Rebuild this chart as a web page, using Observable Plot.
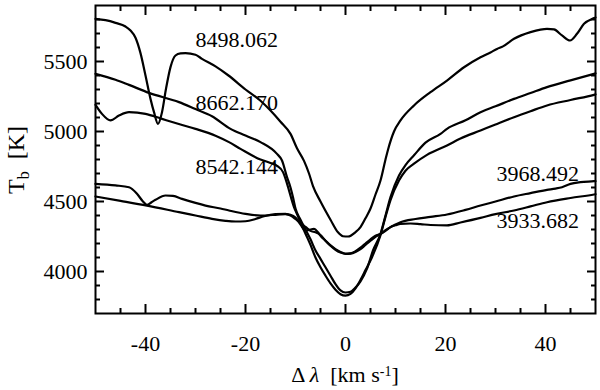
<!DOCTYPE html>
<html><head><meta charset="utf-8">
<script src="https://cdn.jsdelivr.net/npm/d3@7"></script>
<script src="https://cdn.jsdelivr.net/npm/@observablehq/plot@0.6"></script>
<style>
body{margin:0;background:#fff}
svg, svg text { font-family: "Liberation Serif", "DejaVu Serif", serif; }
</style>
</head><body><div id="chart"></div>
<script>
// Δλ [km/s] and brightness temperature T_b [K] for each line
const x8498 = [-50,-48,-46,-44,-43,-42,-41,-40,-39,-38.3,-37.5,-36.7,-35.9,-35,-34,-33,-32,-30,-28.7,-26,-23.4,-20,-17,-15,-13,-11,-9.7,-8.3,-7.3,-6.5,-5,-3,-1.5,-0.5,0.5,2,3,4,5,6,7,8,8.5,9.7,11,13.7,17,20.3,23.7,27,29,30.3,31.5,33.7,37,39,40.3,41.7,43.3,44.9,46.3,47.7,49.7,50];
const t8498 = [5805,5795,5776,5750,5721,5670,5560,5400,5233,5138,5055,5138,5305,5460,5543,5558,5560,5548,5519,5465,5400,5300,5220,5150,5070,4983,4880,4790,4700,4610,4500,4370,4280,4252,4250,4281,4317,4380,4450,4550,4650,4800,4870,5000,5079,5186,5281,5364,5459,5531,5565,5590,5608,5662,5710,5728,5733,5729,5686,5650,5698,5769,5810,5815];

const x8662 = [-50,-46,-43.3,-39.3,-33.3,-30,-26.7,-23,-20,-17,-13.7,-12.7,-11.7,-11,-10.5,-10,-9,-8,-7,-6,-5,-4,-3,-2,-1,0,1,2,3,4.3,5.5,7,8,9,10.7,12,13.7,16,19,20.3,24,27,30,33.7,37,40.3,45,49.7,50];
const t8662 = [5412,5370,5333,5276,5210,5160,5109,5019,4971,4924,4840,4793,4674,4600,4530,4450,4370,4300,4230,4150,4090,4030,3970,3910,3865,3850,3855,3885,3930,4020,4150,4269,4400,4531,4686,4760,4830,4920,4983,5019,5080,5138,5180,5233,5275,5317,5365,5412,5415];

const x8542 = [-50,-48.7,-47,-45.3,-43.3,-40,-36.7,-33,-30,-26,-23.3,-21,-17,-15,-13.7,-12.5,-11.8,-11.3,-10.3,-9.7,-9,-8,-7,-6,-5,-4,-3,-2,-1,0,1,2,3,4,5.3,7,8,9,10.7,12,13.7,16.3,20.3,23,27,30,33.7,37,40.3,45,49.7,50];
const t8542 = [5191,5126,5079,5114,5138,5126,5090,5050,5019,4970,4924,4876,4800,4775,4755,4710,4640,4579,4460,4410,4350,4270,4190,4100,4030,3970,3915,3870,3838,3828,3840,3880,3940,4010,4102,4260,4390,4510,4650,4720,4770,4833,4900,4950,5007,5050,5102,5145,5186,5225,5262,5265];

const x3968 = [-50,-46,-43.3,-41.7,-40.5,-39.7,-38.8,-38,-36,-34.5,-32.7,-30,-28,-25,-23.3,-20,-17,-14,-12,-11,-10,-9,-8,-7,-6.3,-5.5,-5,-4,-3,-2,-1,0,1,2,3,4,5,6,7,8,9,10,11,14,17,20.3,24,27,30,33.7,37,40.3,42,43.3,45,47,49.7,50];
const t3968 = [4626,4615,4602,4555,4500,4476,4495,4512,4543,4540,4519,4490,4471,4450,4436,4412,4400,4405,4410,4405,4385,4335,4292,4300,4305,4280,4255,4220,4186,4160,4140,4128,4130,4145,4170,4200,4230,4255,4268,4290,4317,4335,4352,4375,4390,4407,4440,4471,4500,4536,4560,4583,4592,4602,4626,4638,4645,4646];

const x3933 = [-50,-45,-39.7,-33.3,-30,-26.7,-24,-22,-20,-18,-16.3,-14,-12,-11,-10,-9,-8,-7,-6,-5,-4,-3,-2,-1,0,1,2,3,4,5,6,7,8,9,10,11,13,15,17,20.3,23,27,30,33.7,37,40.3,45,49.7,50];
const t3933 = [4536,4505,4471,4424,4400,4376,4362,4357,4359,4375,4395,4410,4412,4400,4375,4345,4318,4290,4280,4260,4220,4185,4155,4135,4125,4128,4140,4160,4190,4220,4248,4268,4295,4317,4330,4340,4343,4338,4332,4329,4350,4383,4410,4436,4465,4495,4525,4550,4552];

// line labels
const labelText = ["8498.062", "8662.170", "8542.144", "3968.492", "3933.682"];
const labelX = [-30, -30, -30, 30.2, 30.2];
const labelY = [5655, 5205, 4748, 4698, 4364];

// ticks
const xMajor = [-40, -20, 0, 20, 40];
const xMinor = [-45, -35, -30, -25, -15, -10, -5, 5, 10, 15, 25, 30, 35, 45];
const yMajor = [4000, 4500, 5000, 5500];
const yMinor = [3800, 3900, 4100, 4200, 4300, 4400, 4600, 4700, 4800, 4900, 5100, 5200, 5300, 5400, 5600, 5700, 5800];

const series = [
  {name: "8498.062", x: x8498, t: t8498},
  {name: "8662.170", x: x8662, t: t8662},
  {name: "8542.144", x: x8542, t: t8542},
  {name: "3968.492", x: x3968, t: t3968},
  {name: "3933.682", x: x3933, t: t3933}
];
const rows = series.flatMap(s => s.x.map((x, i) => ({series: s.name, x, t: s.t[i]})));
const labels = labelText.map((text, i) => ({text, x: labelX[i], t: labelY[i]}));

const FONT = "Liberation Serif, DejaVu Serif, serif";
const fmt = d => String(d);

const chart = Plot.plot({
  width: 600,
  height: 390,
  marginLeft: 95,
  marginRight: 5,
  marginTop: 5,
  marginBottom: 77,
  style: {fontFamily: FONT, fontSize: "22px", color: "black", background: "white"},
  x: {domain: [-50, 50]},
  y: {domain: [3700, 5900]},
  marks: [
    Plot.line(rows, {x: "x", y: "t", z: "series", stroke: "black", strokeWidth: 2.2, curve: "monotone-x"}),
    Plot.text(labels, {x: "x", y: "t", text: "text", textAnchor: "start", fontSize: 22, fontFamily: FONT, fill: "black"}),
    // major and minor ticks, all four sides, pointing inward
    Plot.axisX(xMajor, {anchor: "bottom", tickSize: -9, text: null, strokeWidth: 2, label: null}),
    Plot.axisX(xMinor, {anchor: "bottom", tickSize: -5, text: null, strokeWidth: 2, label: null}),
    Plot.axisX(xMajor, {anchor: "top", tickSize: -9, text: null, strokeWidth: 2, label: null}),
    Plot.axisX(xMinor, {anchor: "top", tickSize: -5, text: null, strokeWidth: 2, label: null}),
    Plot.axisY(yMajor, {anchor: "left", tickSize: -9, text: null, strokeWidth: 2, label: null}),
    Plot.axisY(yMinor, {anchor: "left", tickSize: -5, text: null, strokeWidth: 2, label: null}),
    Plot.axisY(yMajor, {anchor: "right", tickSize: -9, text: null, strokeWidth: 2, label: null}),
    Plot.axisY(yMinor, {anchor: "right", tickSize: -5, text: null, strokeWidth: 2, label: null}),
    // tick labels
    Plot.axisX(xMajor, {anchor: "bottom", tickSize: 0, tickPadding: 22, tickFormat: fmt, fontFamily: FONT, label: null}),
    Plot.axisY(yMajor, {anchor: "left", tickSize: 0, tickPadding: 8, tickFormat: fmt, fontFamily: FONT, label: null}),
    Plot.frame({stroke: "black", strokeWidth: 2})
  ]
});

document.getElementById("chart").appendChild(chart);

// axis titles with sub/superscripts
const svg = d3.select(chart);
const xt = svg.append("text")
  .attr("x", 345).attr("y", 382)
  .attr("text-anchor", "middle")
  .attr("font-family", FONT).attr("font-size", 22).attr("fill", "black");
xt.append("tspan").text("\u0394\u2009");
xt.append("tspan").attr("font-style", "italic").text("\u03bb");
xt.append("tspan").text("\u00a0\u00a0[km\u00a0s");
xt.append("tspan").attr("dy", "-0.45em").attr("font-size", 14).text("-1");
xt.append("tspan").attr("dy", "0.3em").text("]");

const yt = svg.append("text")
  .attr("transform", "translate(24,160) rotate(-90)")
  .attr("text-anchor", "middle")
  .attr("font-family", FONT).attr("font-size", 24).attr("fill", "black");
yt.append("tspan").text("T");
yt.append("tspan").attr("dy", "0.3em").attr("font-size", 16).text("b");
yt.append("tspan").attr("dy", "-0.2em").text("\u00a0\u00a0[K]");
</script>
</body></html>
